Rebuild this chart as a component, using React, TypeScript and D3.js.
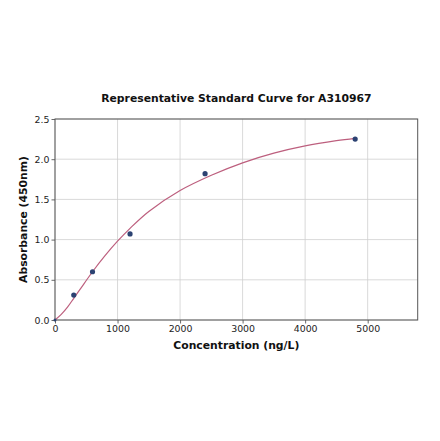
import React, { useRef, useEffect } from 'react';
import * as d3 from 'd3';

// measured standards
const concentrations = [0, 300, 600, 1200, 2400, 4800];
const absorbances = [0, 0.31, 0.6, 1.07, 1.82, 2.25];

// fitted curve
const curveConc = [0, 100, 200, 300, 400, 600, 800, 1000, 1200, 1500, 2000, 2500, 3000, 3500, 4000, 4500, 4800];
const curveAbs = [0, 0.07, 0.16, 0.27, 0.38, 0.6, 0.8, 0.98, 1.14, 1.35, 1.61, 1.8, 1.955, 2.075, 2.165, 2.23, 2.26];

const xTicks = [0, 1000, 2000, 3000, 4000, 5000];
const yTicks = [0, 0.5, 1.0, 1.5, 2.0, 2.5];

const App: React.FC = () => {
  const svgRef = useRef<SVGSVGElement>(null);

  useEffect(() => {
    const svgEl = d3.select(svgRef.current);
    svgEl.selectAll('*').remove();

    const margin = { top: 119, right: 22.3, bottom: 121, left: 55 };
    const W = 440;
    const H = 441;
    const width = W - margin.left - margin.right;
    const height = H - margin.top - margin.bottom;
    const font = 'DejaVu Sans, sans-serif';

    const svg = svgEl
      .attr('width', W)
      .attr('height', H)
      .append('g')
      .attr('transform', `translate(${margin.left},${margin.top})`);

    const x = d3.scaleLinear().domain([0, 5800]).range([0, width]);
    const y = d3.scaleLinear().domain([0, 2.5]).range([height, 0]);

    // grid
    svg.selectAll('.gx')
      .data(xTicks)
      .join('line')
      .attr('x1', d => x(d))
      .attr('x2', d => x(d))
      .attr('y1', 0)
      .attr('y2', height)
      .attr('stroke', '#cfcfcf')
      .attr('stroke-width', 0.8);

    svg.selectAll('.gy')
      .data(yTicks)
      .join('line')
      .attr('x1', 0)
      .attr('x2', width)
      .attr('y1', d => y(d))
      .attr('y2', d => y(d))
      .attr('stroke', '#cfcfcf')
      .attr('stroke-width', 0.8);

    // axes
    const xAxis = svg.append('g')
      .attr('transform', `translate(0,${height})`)
      .call(d3.axisBottom(x).tickValues(xTicks).tickFormat(d3.format('d')).tickSize(3.5).tickPadding(2));
    const yAxis = svg.append('g')
      .call(d3.axisLeft(y).tickValues(yTicks).tickFormat(d3.format('.1f')).tickSize(3.5).tickPadding(2));

    [xAxis, yAxis].forEach(a => {
      a.select('.domain').remove();
      a.selectAll('line').attr('stroke', '#444').attr('stroke-width', 0.8);
      a.selectAll('text')
        .attr('font-family', font)
        .attr('font-size', '9.4px')
        .attr('fill', '#222');
    });

    svg.append('rect')
      .attr('width', width)
      .attr('height', height)
      .attr('fill', 'none')
      .attr('stroke', '#555')
      .attr('stroke-width', 1);

    // fitted curve
    const curveData = curveConc.map((c, i) => ({ c, a: curveAbs[i] }));
    const line = d3.line<{ c: number; a: number }>()
      .x(d => x(d.c))
      .y(d => y(d.a))
      .curve(d3.curveCatmullRom);

    svg.append('path')
      .datum(curveData)
      .attr('fill', 'none')
      .attr('stroke', '#bd5f7e')
      .attr('stroke-width', 1.2)
      .attr('d', line);

    // points
    svg.selectAll('.pt')
      .data(concentrations.map((c, i) => ({ c, a: absorbances[i] })))
      .join('circle')
      .attr('cx', d => x(d.c))
      .attr('cy', d => y(d.a))
      .attr('r', d => (d.c === 0 ? 1.5 : 2.6))
      .attr('fill', '#2c4272');

    const label = (t: string) => svg.append('text')
      .attr('text-anchor', 'middle')
      .attr('font-family', font)
      .attr('font-weight', 'bold')
      .attr('font-size', '10.8px')
      .attr('fill', '#111')
      .text(t);

    // title
    label('Representative Standard Curve for A310967')
      .attr('x', width / 2)
      .attr('y', -17);

    label('Concentration (ng/L)')
      .attr('x', width / 2)
      .attr('y', height + 29);

    label('Absorbance (450nm)')
      .attr('transform', `translate(${-28},${height / 2}) rotate(-90)`);
  }, []);

  return (
    <svg ref={svgRef} style={{ position: 'absolute', left: 0, top: 0, background: '#fff' }} />
  );
};

export default App;
